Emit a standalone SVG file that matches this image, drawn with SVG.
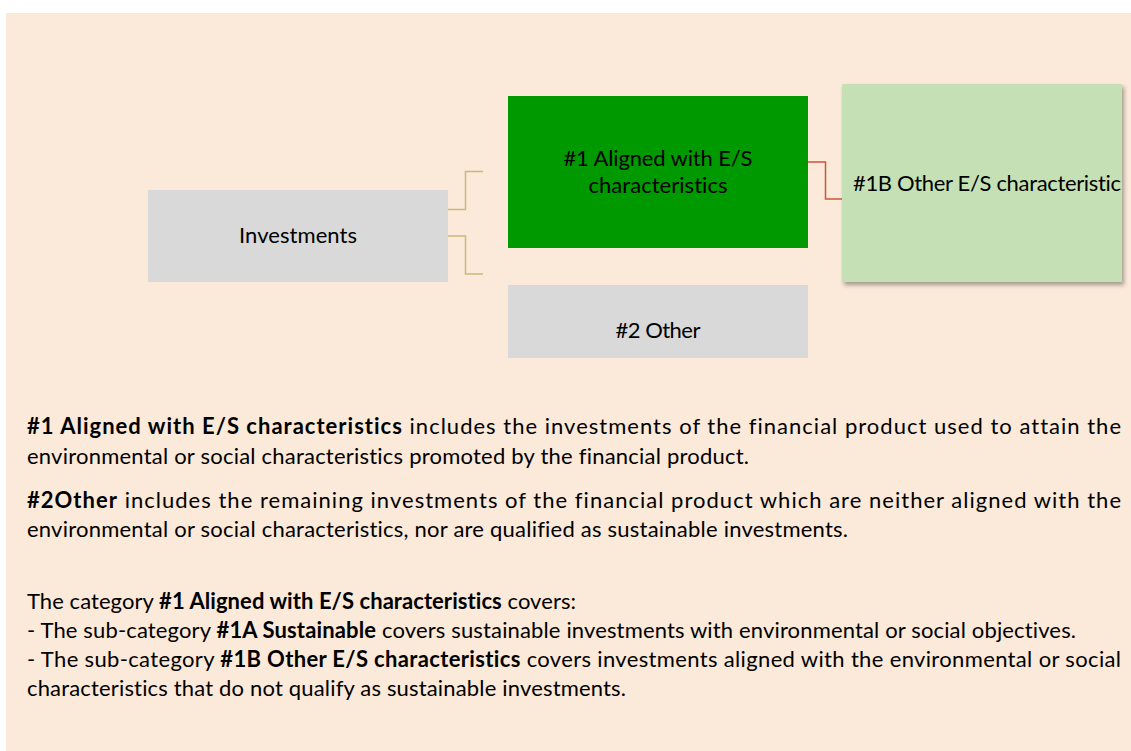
<svg xmlns="http://www.w3.org/2000/svg" width="1131" height="751" viewBox="0 0 1131 751">
<defs>
<style>
.t{font-family:Lato,"Open Sans","Liberation Sans",sans-serif;font-size:22px;fill:#000;font-variant-ligatures:none;font-feature-settings:"liga" 0,"dlig" 0}
.c{text-anchor:middle}
.b{font-weight:bold}
.conn{fill:none;stroke-width:1.5}
.tan{stroke:#C8B97E}
.red{stroke:#C9573A}
.gray{fill:#D9D9D9}
</style>
<filter id="sh" x="-5%" y="-5%" width="115%" height="120%"><feDropShadow dx="2" dy="3" stdDeviation="2" flood-color="#000" flood-opacity="0.35"/></filter>
<clipPath id="clip1b"><rect x="842" y="84" width="280" height="198"/></clipPath>
</defs>
<rect x="6" y="13" width="1125" height="738" fill="#FBE9D9"/>
<g id="connectors">
<path class="conn tan" d="M448,209.5 H465.5 V171.5 H483"/>
<path class="conn tan" d="M448,236 H465.5 V274 H483"/>
<path class="conn red" d="M808,162 H825.5 V199 H842"/>
</g>
<g id="investments">
<rect class="gray" x="148" y="190" width="300" height="92"/>
<text class="t c" x="298" y="243" textLength="118" lengthAdjust="spacing">Investments</text>
</g>
<g id="aligned">
<rect x="508" y="96" width="300" height="152" fill="#009900"/>
<text class="t c" x="658" y="166" textLength="189" lengthAdjust="spacing">#1 Aligned with E/S</text>
<text class="t c" x="658" y="193" textLength="139" lengthAdjust="spacing">characteristics</text>
</g>
<g id="other-es">
<rect x="842" y="84" width="280" height="198" fill="#C5E0B4" filter="url(#sh)"/>
<text class="t" x="853" y="191" clip-path="url(#clip1b)" textLength="268" lengthAdjust="spacing">#1B Other E/S characteristic</text>
</g>
<g id="other">
<rect class="gray" x="508" y="285" width="300" height="73"/>
<text class="t c" x="658" y="338" textLength="85" lengthAdjust="spacing">#2 Other</text>
</g>
<g id="description">
<text class="t" x="27" y="434" textLength="1094" lengthAdjust="spacing"><tspan class="b">#1 Aligned with E/S characteristics</tspan> includes the investments of the financial product used to attain the</text>
<text class="t" x="27" y="464" textLength="722" lengthAdjust="spacing">environmental or social characteristics promoted by the financial product.</text>
<text class="t" x="27" y="508" textLength="1094" lengthAdjust="spacing"><tspan class="b">#2Other</tspan> includes the remaining investments of the financial product which are neither aligned with the</text>
<text class="t" x="27" y="537" textLength="821" lengthAdjust="spacing">environmental or social characteristics, nor are qualified as sustainable investments.</text>
<text class="t" x="27" y="609" textLength="549" lengthAdjust="spacing">The category <tspan class="b">#1 Aligned with E/S characteristics</tspan> covers:</text>
<text class="t" x="27" y="638" textLength="1049" lengthAdjust="spacing">- The sub-category <tspan class="b">#1A Sustainable</tspan> covers sustainable investments with environmental or social objectives.</text>
<text class="t" x="27" y="667" textLength="1094" lengthAdjust="spacing">- The sub-category <tspan class="b">#1B Other E/S characteristics</tspan> covers investments aligned with the environmental or social</text>
<text class="t" x="27" y="696" textLength="599" lengthAdjust="spacing">characteristics that do not qualify as sustainable investments.</text>
</g>
</svg>
